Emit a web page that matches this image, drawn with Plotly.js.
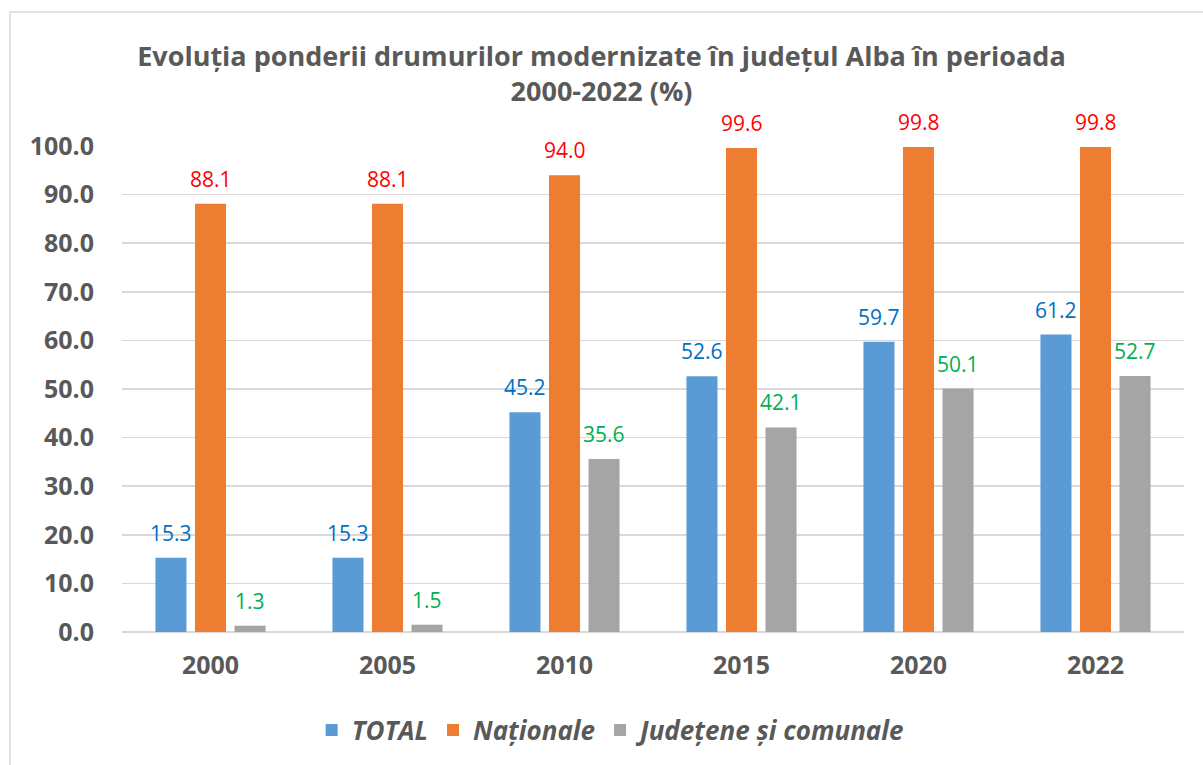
<!DOCTYPE html>
<html>
<head>
<meta charset="utf-8">
<script src="https://cdn.plot.ly/plotly-3.0.1.min.js"></script>
<style>html,body{margin:0;padding:0;background:#fff;}#chart{width:1203px;height:765px;}</style>
</head>
<body>
<div id="chart"></div>
<script>
var years = ['2000', '2005', '2010', '2015', '2020', '2022'];
var total = [15.3, 15.3, 45.2, 52.6, 59.7, 61.2];
var nationale = [88.1, 88.1, 94.0, 99.6, 99.8, 99.8];
var judetene = [1.3, 1.5, 35.6, 42.1, 50.1, 52.7];
var seriesNames = ['TOTAL', 'Naționale', 'Județene și comunale'];
var yTicks = [0, 10, 20, 30, 40, 50, 60, 70, 80, 90, 100];

var barColors = ['#5B9BD5', '#ED7D31', '#A5A5A5'];
var labelColors = ['#0070C0', '#FF0000', '#00B050'];
var FONT = 'Open Sans, sans-serif';

var W = 1203, H = 765;
var mL = 122, mR = 19, mT = 146, mB = 133;
var plotW = W - mL - mR, plotH = H - mT - mB;
var bargap = 0.33;
var catW = plotW / years.length;
var slot = catW * (1 - bargap) / 3;

var allSeries = [total, nationale, judetene];
var traces = allSeries.map(function (vals, i) {
  return {
    type: 'bar', x: years, y: vals, name: seriesNames[i],
    marker: { color: barColors[i] }, hoverinfo: 'x+y'
  };
});

var annotations = [];
allSeries.forEach(function (vals, i) {
  vals.forEach(function (v, j) {
    annotations.push({
      x: j, y: v, xref: 'x', yref: 'y',
      text: v.toFixed(1), showarrow: false,
      xshift: (i - 1) * slot, yshift: 25, yanchor: 'middle',
      font: { family: FONT, size: 21, color: labelColors[i] }
    });
  });
});

var layout = {
  width: W, height: H,
  margin: { l: mL, r: mR, t: mT, b: mB },
  paper_bgcolor: '#fff', plot_bgcolor: '#fff',
  barmode: 'group', bargap: bargap, bargroupgap: 0.215,
  title: {
    text: 'Evoluția ponderii drumurilor modernizate în județul Alba în perioada<br>2000-2022 (%)',
    font: { family: FONT, size: 27, color: '#595959', weight: 'bold' },
    x: 0.5, xref: 'container', xanchor: 'center', y: 0.914, yanchor: 'top'
  },
  xaxis: {
    type: 'category', range: [-0.5, years.length - 0.5], autorange: false,
    showgrid: false, zeroline: false, showline: false,
    ticks: '', tickfont: { family: FONT, size: 25, color: '#595959', weight: 'bold' },
    ticklabelstandoff: 16
  },
  yaxis: {
    range: [0, 100], autorange: false, tickvals: yTicks, tickformat: '.1f',
    showgrid: true, gridcolor: '#D9D9D9', gridwidth: 1.5,
    zeroline: true, zerolinecolor: '#D9D9D9', zerolinewidth: 2.5,
    showline: false, ticks: '',
    tickfont: { family: FONT, size: 25, color: '#595959', weight: 'bold' },
    ticklabelstandoff: 27
  },
  showlegend: true,
  legend: {
    orientation: 'h', x: 0.462, xanchor: 'center', y: -(730 - (H - mB)) / plotH,
    yanchor: 'middle', traceorder: 'normal',
    font: { family: FONT, size: 26, color: '#595959', weight: 'bold', style: 'italic' },
    itemwidth: 30
  },
  annotations: annotations,
  shapes: [{
    type: 'rect', xref: 'paper', yref: 'paper',
    x0: (10 - mL) / plotW, x1: 1.2, y0: -0.6, y1: (H - mB - 12) / plotH,
    line: { color: '#D9D9D9', width: 1.5 }, fillcolor: 'rgba(0,0,0,0)', layer: 'below'
  }]
};

Plotly.newPlot('chart', traces, layout, { displayModeBar: false, staticPlot: true });
</script>
</body>
</html>
